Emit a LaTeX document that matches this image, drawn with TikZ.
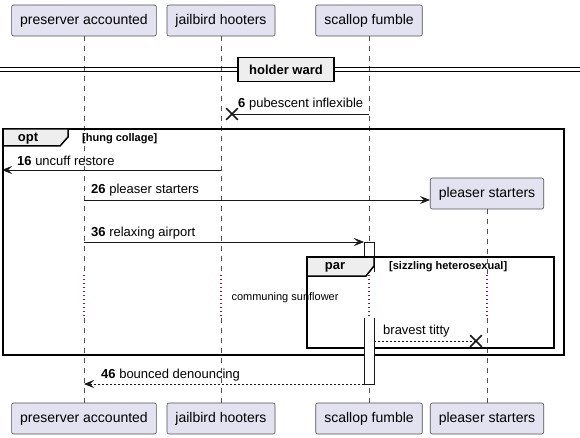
\documentclass[tikz,border=0pt]{standalone}
\usepackage{fontspec}
\setmainfont{Liberation Sans}
\usetikzlibrary{arrows.meta,shapes.misc}
\definecolor{partfill}{HTML}{E2E2F0}
\definecolor{lineclr}{HTML}{181818}
\definecolor{tabfill}{HTML}{EEEEEE}
\definecolor{delayclr}{HTML}{9B1050}
\begin{document}
\begin{tikzpicture}[x=1pt,y=-1pt,
 part/.style={draw=lineclr!75, line width=0.6pt, fill=partfill, rounded corners=2pt, minimum height=31pt, inner xsep=8.5pt, font=\fontsize{14}{16}\selectfont},
 life/.style={draw=lineclr!75, line width=0.6pt, dash pattern=on 5pt off 5pt},
 delayline/.style={draw=delayclr, line width=1.2pt, dash pattern=on 1.2pt off 2.8pt},
 msg/.style={draw=lineclr, line width=0.8pt, -{Stealth[length=10pt,width=8pt,inset=4pt]}},
 retmsg/.style={msg, dash pattern=on 2pt off 2pt},
 plain/.style={draw=lineclr, line width=0.8pt},
 lbl/.style={anchor=west, inner sep=0pt, font=\fontsize{13}{15}\selectfont},
 xmark/.style={cross out, draw=lineclr, line width=1.7pt, minimum size=10pt, inner sep=0pt},
 tabshape/.style={draw=black, line width=1.5pt, fill=tabfill},
 tabtext/.style={inner sep=0pt, font=\bfseries\fontsize{13}{15}\selectfont},
 condtext/.style={anchor=west, inner sep=0pt, font=\bfseries\fontsize{11}{13}\selectfont},
]
\useasboundingbox (0,0) rectangle (580,438);
\fill[white] (0,0) rectangle (580,438);

% participants top
\node[part] (pa) at (84,20.5) {preserver accounted};
\node[part] (pb) at (221,20.5) {jailbird hooters};
\node[part] (pc) at (369,20.5) {scallop fumble};
% participants bottom
\node[part] (qa) at (84,418.5) {preserver accounted};
\node[part] (qb) at (221,418.5) {jailbird hooters};
\node[part] (qc) at (369,418.5) {scallop fumble};
\node[part] (qd) at (487,418.5) {pleaser starters};
% created participant
\node[part] (pd) at (487,193.5) {pleaser starters};

% delay coordinates
\coordinate (a1) at (84,275);  \coordinate (a2) at (84,318);
\coordinate (b1) at (221,275); \coordinate (b2) at (221,318);
\coordinate (c1) at (369,275); \coordinate (c2) at (369,318);
\coordinate (d1) at (487,275); \coordinate (d2) at (487,318);

% lifelines
\draw[life] (pa.south) -- (a1); \draw[delayline] (a1) -- (a2); \draw[life] (a2) -- (qa.north);
\draw[life] (pb.south) -- (b1); \draw[delayline] (b1) -- (b2); \draw[life] (b2) -- (qb.north);
\draw[life] (pc.south) -- (c1); \draw[delayline] (c1) -- (c2); \draw[life] (c2) -- (qc.north);
\draw[life] (pd.south) -- (d1); \draw[delayline] (d1) -- (d2); \draw[life] (d2) -- (qd.north);

% divider
\draw[line width=1pt] (0,68) -- (580,68) (0,71.5) -- (580,71.5);
\node[draw=black, line width=1.5pt, fill=tabfill, minimum width=96pt, minimum height=24pt, inner sep=0pt, font=\bfseries\fontsize{13}{15}\selectfont] (div) at (286,69.5) {holder ward};

% message 6
\coordinate (m6s) at (369,114);
\node[xmark] (x6) at (232,114) {};
\draw[plain] (m6s) -- (x6.center);
\node[lbl] (l6) at (238,104) {\textbf{6} pubescent inflexible};

% activation top part
\coordinate (act1tl) at (364,242);
\fill[white] (364,242) rectangle (374,272);
\draw[plain] (364,272) -- (act1tl) -- (374,242) -- (374,272);

% opt frame
\node[draw=black, line width=1.5pt, minimum width=561pt, minimum height=226pt, inner sep=0pt] (optf) at (283.5,242) {};
\filldraw[tabshape] (3,129) -- (68,129) -- (68,137) -- (60,146) -- (3,146) -- cycle;
\node[tabtext] (optl) at (28,138.5) {opt};
\node[condtext] (optc) at (82,139) {[hung collage]};

% message 16
\coordinate (m16s) at (221,170);
\coordinate (m16e) at (2,170);
\draw[msg] (m16s) -- (m16e);
\node[lbl] (l16) at (17,161) {\textbf{16} uncuff restore};

% message 26
\coordinate (m26s) at (84,200);
\draw[msg] (m26s) -- (pd.west |- m26s);
\node[lbl] (l26) at (91,190) {\textbf{26} pleaser starters};

% message 36
\coordinate (m36s) at (84,242);
\draw[msg] (m36s) -- (act1tl);
\node[lbl] (l36) at (91,233) {\textbf{36} relaxing airport};

% par frame
\node[draw=black, line width=1.5pt, minimum width=247pt, minimum height=91pt, inner sep=0pt] (parf) at (430.5,302.5) {};
\filldraw[tabshape] (307,257) -- (374,257) -- (374,266) -- (366,276) -- (307,276) -- cycle;
\node[tabtext] (parl) at (335,267.5) {par};
\node[condtext] (parc) at (389,267) {[sizzling heterosexual]};

% delay text
\node[inner sep=0pt, font=\fontsize{11}{13}\selectfont] (dly) at (285,298) {communing sunflower};

% activation lower part
\coordinate (act2bl) at (364,384);
\coordinate (act2r) at (374,341);
\fill[white] (364,318) rectangle (374,384);
\draw[plain] (364,318) -- (act2bl) -- (374,384) -- (374,318);

% bravest titty
\node[xmark] (xb) at (476,341) {};
\draw[plain, dash pattern=on 2pt off 2pt] (act2r) -- (xb.center);
\node[lbl] (lb) at (383,331) {bravest titty};

% message 46
\coordinate (m46e) at (84,384);
\draw[retmsg] (act2bl) -- (m46e);
\node[lbl] (l46) at (101,375) {\textbf{46} bounced denouncing};
\end{tikzpicture}
\end{document}
